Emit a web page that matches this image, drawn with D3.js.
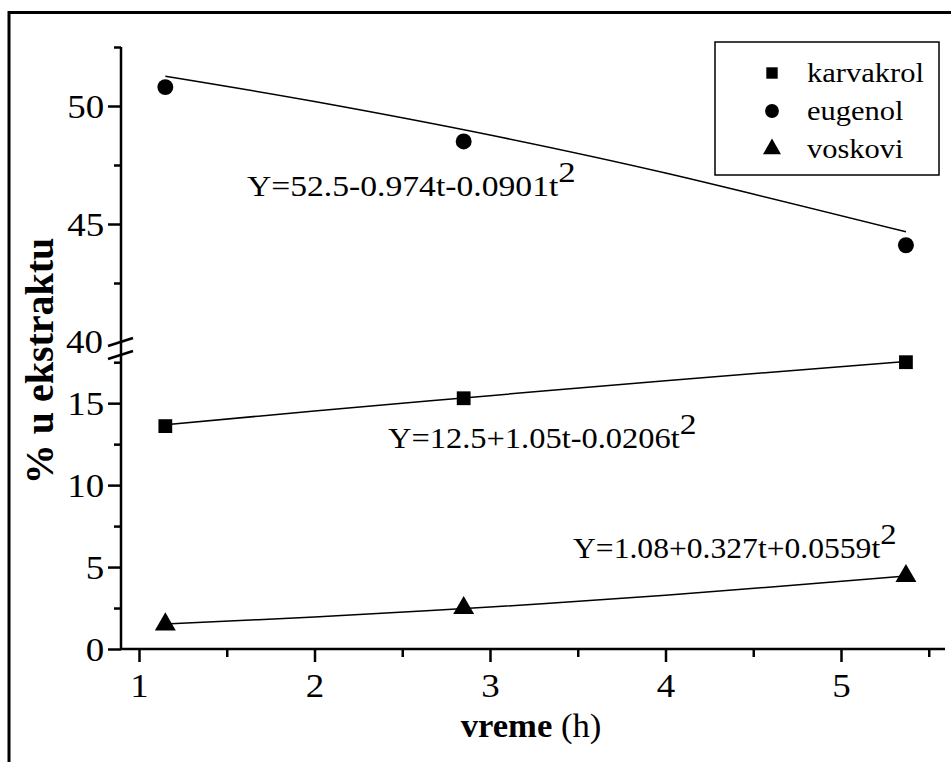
<!DOCTYPE html>
<html><head><meta charset="utf-8">
<script src="https://cdn.jsdelivr.net/npm/d3@7"></script>
<style>body{margin:0;background:#fff}svg{display:block}svg text{font-family:"Liberation Serif","Times New Roman",Times,serif !important;fill:#000}</style>
</head><body>
<script>
// ---- data ----
const times = [1.15, 2.85, 5.37];
const karvakrol = [13.6, 15.3, 17.5];
const eugenol = [50.8, 48.5, 44.1];
const voskovi = [1.5, 2.5, 4.45];
// fitted curves
const fitT = [1.15, 2, 3, 4, 5.37];
const fitKarvakrol = [13.68, 14.52, 15.46, 16.37, 17.54];
const fitEugenol = [51.26, 50.19, 48.77, 47.16, 44.67];
const fitVoskovi = [1.53, 1.96, 2.56, 3.28, 4.45];
const xTicks = [1, 2, 3, 4, 5];
const xMinor = [1.5, 2.5, 3.5, 4.5, 5.5];
const yLowTicks = [0, 5, 10, 15];
const yLowMinor = [2.5, 7.5, 12.5, 17.5];
const yUpTicks = [45, 50];
const yUpMinor = [42.5, 47.5, 52.5];
const legendNames = ["karvakrol", "eugenol", "voskovi"];
const equations = ["Y=52.5-0.974t-0.0901t", "Y=12.5+1.05t-0.0206t", "Y=1.08+0.327t+0.0559t"];

const W = 951, H = 762;
const FONT = "'Liberation Serif','Times New Roman',Times,serif";
const svg = d3.select("body").append("svg").attr("width", W).attr("height", H);
svg.append("rect").attr("width", W).attr("height", H).attr("fill", "#fff");
// outer frame
svg.append("rect").attr("x", 9).attr("y", 12.5).attr("width", 1000).attr("height", 1000)
  .attr("fill", "none").attr("stroke", "#000").attr("stroke-width", 3);

const x = d3.scaleLinear().domain([1, 5]).range([139, 841]);
const yU = d3.scaleLinear().domain([40, 52.5]).range([342, 47]);
const yL = d3.scaleLinear().domain([0, 18]).range([649, 354]);
const axX = 121, axY = 649;
const SX = 1.12; // horizontal stretch of the reference lettering

// x axis
const gx = svg.append("g").attr("transform", `translate(0,${axY})`);
gx.call(d3.axisBottom(x).tickValues(xMinor).tickSize(8).tickFormat(""));
gx.select(".domain").remove();
const gx2 = svg.append("g").attr("transform", `translate(0,${axY})`);
gx2.call(d3.axisBottom(x).tickValues(xTicks).tickSize(13).tickPadding(12).tickFormat(d3.format("d")));
gx2.select(".domain").remove();
[gx, gx2].forEach(g => g.selectAll("line").attr("stroke-width", 2.5));
gx2.selectAll("text").attr("font-size", 33).style("font-family", FONT).attr("transform", `scale(${SX},1)`);
svg.append("line").attr("x1", axX).attr("x2", 945).attr("y1", axY).attr("y2", axY)
  .attr("stroke", "#000").attr("stroke-width", 2.5);

// y axes (broken)
function yAxis(scale, major, minor) {
  const g1 = svg.append("g").attr("transform", `translate(${axX},0)`)
    .call(d3.axisLeft(scale).tickValues(minor).tickSize(7).tickFormat(""));
  g1.select(".domain").remove();
  const g2 = svg.append("g").attr("transform", `translate(${axX},0)`)
    .call(d3.axisLeft(scale).tickValues(major).tickSize(13).tickPadding(2).tickFormat(d3.format("d")));
  g2.select(".domain").remove();
  [g1, g2].forEach(g => g.selectAll("line").attr("stroke-width", 2.5));
  g2.selectAll("text").attr("font-size", 33).style("font-family", FONT).attr("dy", "0.34em")
    .attr("transform", `scale(${SX},1)`);
}
yAxis(yL, yLowTicks, yLowMinor);
yAxis(yU, yUpTicks, yUpMinor);
// label 40 at the break
svg.append("text").attr("transform", `translate(${axX - 18},${yU(40)}) scale(${SX},1)`).attr("dy", "0.34em")
  .attr("text-anchor", "end").attr("font-size", 33).style("font-family", FONT).text("40");
svg.append("line").attr("x1", axX).attr("x2", axX).attr("y1", yU(52.5)).attr("y2", axY)
  .attr("stroke", "#000").attr("stroke-width", 2.5);
// break marks
[[346, 338], [359, 351]].forEach(([a, b]) => {
  svg.append("line").attr("x1", 108).attr("y1", a).attr("x2", 133).attr("y2", b)
    .attr("stroke", "#000").attr("stroke-width", 2.5);
});

// fitted lines
const line = (scale) => d3.line().x(d => x(d[0])).y(d => scale(d[1])).curve(d3.curveCardinal);
const fits = [[fitKarvakrol, yL], [fitEugenol, yU], [fitVoskovi, yL]];
fits.forEach(([vals, sc]) => {
  svg.append("path").datum(fitT.map((t, i) => [t, vals[i]]))
    .attr("d", line(sc)).attr("fill", "none").attr("stroke", "#000").attr("stroke-width", 1.5);
});

// markers
const sym = [d3.symbolSquare, d3.symbolCircle, d3.symbolTriangle];
const sizes = [190, 200, 190];
const series = [[karvakrol, yL], [eugenol, yU], [voskovi, yL]];
series.forEach(([vals, sc], k) => {
  svg.append("g").selectAll("path").data(times.map((t, i) => [t, vals[i]])).join("path")
    .attr("transform", d => `translate(${x(d[0])},${sc(d[1])})`)
    .attr("d", d3.symbol(sym[k], sizes[k])).attr("fill", "#000");
});

// equations with superscript (order: eugenol, karvakrol, voskovi)
const eqPos = [[247, 196], [388, 448], [573, 558]];
const eqScale = [1.16, 1.12, 1.09];
equations.forEach((eq, i) => {
  const t = svg.append("text").attr("transform", `translate(${eqPos[i][0]},${eqPos[i][1]}) scale(${eqScale[i]},1)`)
    .attr("font-size", 29).style("font-family", FONT);
  t.append("tspan").text(eq);
  t.append("tspan").attr("dy", -14).attr("font-size", 30).text("2");
});

// legend
svg.append("rect").attr("x", 715).attr("y", 42).attr("width", 224).attr("height", 133)
  .attr("fill", "#fff").attr("stroke", "#000").attr("stroke-width", 1.5);
const legY = [73, 111, 149];
legendNames.forEach((n, i) => {
  svg.append("path").attr("transform", `translate(772,${legY[i]})`)
    .attr("d", d3.symbol(sym[i], [130, 150, 140][i])).attr("fill", "#000");
  svg.append("text").attr("transform", `translate(807,${legY[i]}) scale(1.09,1)`).attr("dy", "0.32em")
    .attr("font-size", 28).style("font-family", FONT).text(n);
});

// axis titles
svg.append("text").attr("transform", `translate(53,361) rotate(-90)`).attr("text-anchor", "middle")
  .attr("font-size", 40).attr("font-weight", "bold").style("font-family", FONT).text("% u ekstraktu");
const xt = svg.append("text").attr("transform", `translate(531,737) scale(1.05,1)`).attr("text-anchor", "middle")
  .attr("font-size", 33).style("font-family", FONT);
xt.append("tspan").attr("font-weight", "bold").text("vreme");
xt.append("tspan").text(" (h)");
</script>
</body></html>
